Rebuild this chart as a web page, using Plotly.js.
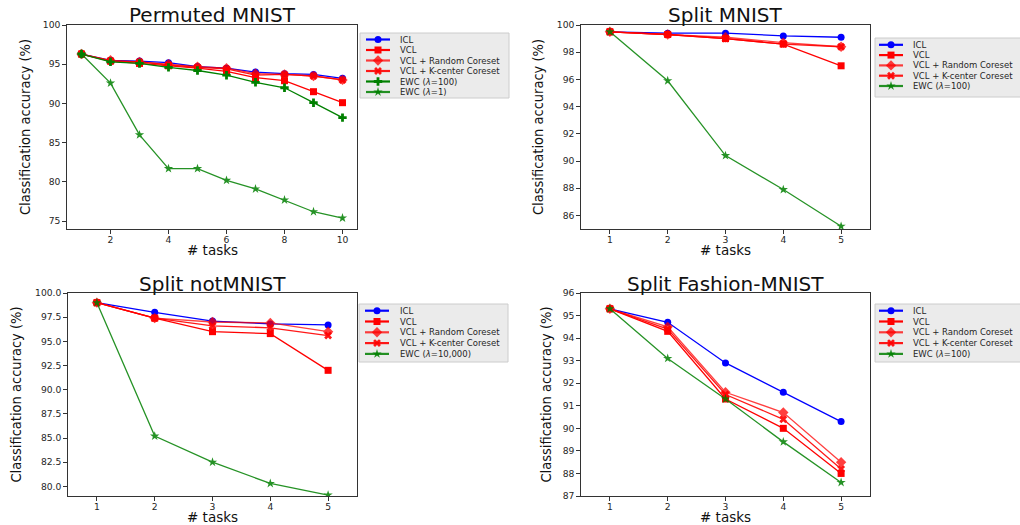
<!DOCTYPE html>
<html><head><meta charset="utf-8">
<script src="https://cdn.plot.ly/plotly-3.0.1.min.js"></script>
<style>html,body{margin:0;padding:0;background:#fff}#chart{width:1020px;height:525px}</style>
</head><body><div id="chart"></div>
<script>
// ---------------- data ----------------
const tasks10 = [1,2,3,4,5,6,7,8,9,10];
const tasks5 = [1,2,3,4,5];

const panelTitles = ["Permuted MNIST","Split MNIST","Split notMNIST","Split Fashion-MNIST"];
const xLabel = "# tasks";
const yLabel = "Classification accuracy (%)";

// Permuted MNIST
const pmnistNames = ["ICL","VCL","VCL + Random Coreset","VCL + K-center Coreset","EWC (<i>λ</i>=100)","EWC (<i>λ</i>=1)"];
const pmnistICL     = [96.3,95.5,95.4,95.2,94.7,94.5,94.0,93.8,93.7,93.2];
const pmnistVCL     = [96.3,95.4,95.1,94.8,94.5,94.1,93.3,92.9,91.5,90.1];
const pmnistRandom  = [96.3,95.5,95.3,95.0,94.7,94.5,93.8,93.7,93.5,93.0];
const pmnistKCenter = [96.3,95.4,95.3,94.9,94.6,94.4,93.6,93.7,93.5,93.0];
const pmnistEWC100  = [96.3,95.3,95.1,94.6,94.2,93.6,92.7,92.0,90.1,88.2];
const pmnistEWC1    = [96.3,92.6,86.0,81.7,81.7,80.2,79.1,77.7,76.2,75.4];

// Split MNIST
const smnistNames = ["ICL","VCL","VCL + Random Coreset","VCL + K-center Coreset","EWC (<i>λ</i>=100)"];
const smnistICL     = [99.5,99.4,99.4,99.2,99.1];
const smnistVCL     = [99.5,99.3,99.0,98.6,97.0];
const smnistRandom  = [99.5,99.3,99.1,98.7,98.4];
const smnistKCenter = [99.5,99.3,99.0,98.6,98.4];
const smnistEWC     = [99.5,95.9,90.4,87.9,85.2];

// Split notMNIST
const notmnistNames = ["ICL","VCL","VCL + Random Coreset","VCL + K-center Coreset","EWC (<i>λ</i>=10,000)"];
const notmnistICL     = [99.0,98.0,97.1,96.8,96.7];
const notmnistVCL     = [99.0,97.4,96.0,95.8,92.0];
const notmnistRandom  = [99.0,97.4,97.0,96.9,96.0];
const notmnistKCenter = [99.0,97.4,96.6,96.4,95.6];
const notmnistEWC     = [99.0,85.2,82.5,80.3,79.1];

// Split Fashion-MNIST
const fashionNames = ["ICL","VCL","VCL + Random Coreset","VCL + K-center Coreset","EWC (<i>λ</i>=100)"];
const fashionICL     = [95.3,94.7,92.9,91.6,90.3];
const fashionVCL     = [95.3,94.3,91.3,90.0,88.0];
const fashionRandom  = [95.3,94.5,91.6,90.7,88.5];
const fashionKCenter = [95.3,94.4,91.5,90.4,88.2];
const fashionEWC     = [95.3,93.1,91.3,89.4,87.6];

// ---------------- styles ----------------
const W = 1020, H = 525;
const sICL = {color:'#0000ff', symbol:'circle', size:7, opacity:1};
const sVCL = {color:'#ff0000', symbol:'square', size:7, opacity:1};
const sRnd = {color:'#ff0000', symbol:'diamond', size:8, opacity:0.75};
const sKC  = {color:'#ff0000', symbol:'x', size:7, opacity:0.9};
const sEWCa = {color:'#008000', symbol:'cross', size:7, opacity:1};
const sEWCb = {color:'#008000', symbol:'star', size:7, opacity:0.85};

const panels = [
  {x:tasks10, series:[pmnistICL,pmnistVCL,pmnistRandom,pmnistKCenter,pmnistEWC100,pmnistEWC1],
   names:pmnistNames, styles:[sICL,sVCL,sRnd,sKC,sEWCa,sEWCb],
   box:[67,25,357,229], yr:[74,100], xr:[0.5,10.5], ydt:5, y0:75, xdt:2, x0:2, yfmt:'d',
   ytitleX:25, leg:{x0:360,x1:509,y0:33,y1:98,lx0:366,lx1:390,tx:398,r0:39.5,dr:10.5}},
  {x:tasks5, series:[smnistICL,smnistVCL,smnistRandom,smnistKCenter,smnistEWC],
   names:smnistNames, styles:[sICL,sVCL,sRnd,sKC,sEWCb],
   box:[581,25,870,229], yr:[85,100], xr:[0.5,5.5], ydt:2, y0:86, xdt:1, x0:1, yfmt:'d',
   ytitleX:538, leg:{x0:875,x1:1024,y0:38,y1:97,lx0:879,lx1:903,tx:911,r0:44.8,dr:10.3}},
  {x:tasks5, series:[notmnistICL,notmnistVCL,notmnistRandom,notmnistKCenter,notmnistEWC],
   names:notmnistNames, styles:[sICL,sVCL,sRnd,sKC,sEWCb],
   box:[68,293,357,496], yr:[79,100], xr:[0.5,5.5], ydt:2.5, y0:80, xdt:1, x0:1, yfmt:'.1f',
   ytitleX:15, leg:{x0:359,x1:508,y0:304,y1:362,lx0:365,lx1:389,tx:398,r0:310.7,dr:10.8}},
  {x:tasks5, series:[fashionICL,fashionVCL,fashionRandom,fashionKCenter,fashionEWC],
   names:fashionNames, styles:[sICL,sVCL,sRnd,sKC,sEWCb],
   box:[581,293,870,496], yr:[87,96], xr:[0.5,5.5], ydt:1, y0:87, xdt:1, x0:1, yfmt:'d',
   ytitleX:545, leg:{x0:875,x1:1024,y0:304,y1:362,lx0:879,lx1:903,tx:911,r0:310.7,dr:10.8}}
];

const traces = [];
const shapes = [];
const annotations = [];
const layout = {
  width:W, height:H, margin:{l:0,r:0,t:0,b:0},
  paper_bgcolor:'#fff', plot_bgcolor:'rgba(0,0,0,0)', showlegend:false,
  font:{family:'DejaVu Sans, sans-serif', color:'#262626'},
  xaxis5:{domain:[0,1], range:[0,W], visible:false, fixedrange:true, anchor:'y5'},
  yaxis5:{domain:[0,1], range:[H,0], visible:false, fixedrange:true, anchor:'x5'},
};

const axisCommon = {
  showline:true, mirror:true, linecolor:'#333', linewidth:1.3,
  ticks:'outside', ticklen:3.5, tickwidth:1, tickcolor:'#333',
  showgrid:false, zeroline:false, fixedrange:true,
  tickfont:{family:'DejaVu Sans, sans-serif', size:9.2, color:'#262626'}
};

panels.forEach((p, i) => {
  const n = i + 1;
  const xa = 'xaxis' + (n === 1 ? '' : n), ya = 'yaxis' + (n === 1 ? '' : n);
  const xr = 'x' + (n === 1 ? '' : n), yr = 'y' + (n === 1 ? '' : n);
  const [bx0, by0, bx1, by1] = p.box;
  layout[xa] = Object.assign({}, axisCommon, {
    domain:[bx0/W, bx1/W], range:p.xr, anchor:yr, tick0:p.x0, dtick:p.xdt, ticklabelstandoff:-2});
  layout[ya] = Object.assign({}, axisCommon, {
    domain:[1 - by1/H, 1 - by0/H], range:p.yr, anchor:xr, tick0:p.y0, dtick:p.ydt, tickformat:p.yfmt});

  p.series.forEach((ys, k) => {
    const s = p.styles[k];
    traces.push({
      x:p.x, y:ys, xaxis:xr, yaxis:yr, type:'scatter', mode:'lines+markers',
      name:p.names[k], opacity:s.opacity,
      line:{color:s.color, width:1.3},
      marker:{color:s.color, symbol:s.symbol, size:s.size, line:{width:0}}
    });
  });

  const cx = (bx0 + bx1) / 2;
  annotations.push({text:panelTitles[i], xref:'paper', yref:'paper', x:cx/W, y:1 - (by0 - 9.5)/H,
    xanchor:'center', yanchor:'middle', showarrow:false,
    font:{family:'DejaVu Sans, sans-serif', size:20, color:'#111'}});
  annotations.push({text:xLabel, xref:'paper', yref:'paper', x:cx/W, y:1 - (by1 + 21)/H,
    xanchor:'center', yanchor:'middle', showarrow:false,
    font:{family:'DejaVu Sans, sans-serif', size:13.5, color:'#111'}});
  annotations.push({text:yLabel, xref:'paper', yref:'paper', x:p.ytitleX/W, y:1 - ((by0 + by1)/2)/H,
    xanchor:'center', yanchor:'middle', showarrow:false, textangle:-90,
    font:{family:'Liberation Sans Narrow, DejaVu Sans Condensed, sans-serif', size:14.5, color:'#111'}});

  // custom legend
  const L = p.leg;
  shapes.push({type:'rect', xref:'x5', yref:'y5', x0:L.x0, x1:L.x1, y0:L.y0, y1:L.y1,
    line:{color:'#cccccc', width:1}, fillcolor:'#ebebeb', layer:'below'});
  p.names.forEach((nm, k) => {
    const s = p.styles[k];
    const ry = L.r0 + k * L.dr;
    traces.push({x:[L.lx0, L.lx1], y:[ry, ry], xaxis:'x5', yaxis:'y5', type:'scatter', mode:'lines',
      opacity:s.opacity, line:{color:s.color, width:2.2}, hoverinfo:'skip'});
    traces.push({x:[(L.lx0 + L.lx1)/2], y:[ry], xaxis:'x5', yaxis:'y5', type:'scatter', mode:'markers',
      opacity:s.opacity, marker:{color:s.color, symbol:s.symbol, size:s.size, line:{width:0}}, hoverinfo:'skip'});
    annotations.push({text:nm, xref:'x5', yref:'y5', x:L.tx, y:ry, xanchor:'left', yanchor:'middle',
      showarrow:false, font:{family:'DejaVu Sans, sans-serif', size:8.5, color:'#262626'}});
  });
});

layout.shapes = shapes;
layout.annotations = annotations;

Plotly.newPlot('chart', traces, layout, {staticPlot:true, displayModeBar:false});
</script>
</body></html>
